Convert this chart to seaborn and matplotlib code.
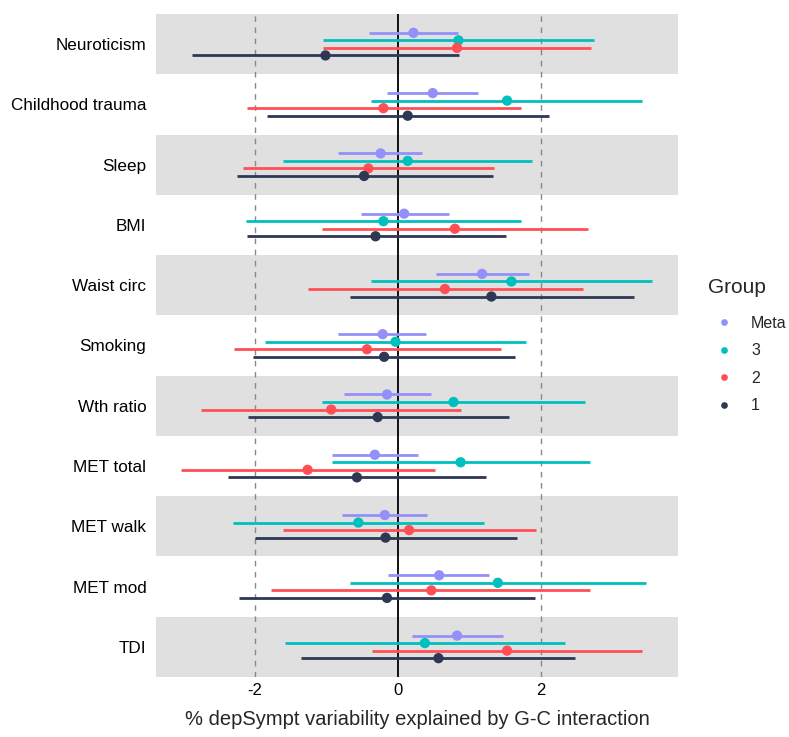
import numpy as np
import pandas as pd
import matplotlib
matplotlib.use("Agg")
import matplotlib.pyplot as plt
import seaborn as sns

sns.set_theme(style="white")
plt.rcParams["font.family"] = ["Liberation Sans", "DejaVu Sans"]

categories = ["Neuroticism", "Childhood trauma", "Sleep", "BMI", "Waist circ",
              "Smoking", "Wth ratio", "MET total", "MET walk", "MET mod", "TDI"]
groups = ["Meta", "3", "2", "1"]

est_meta = [0.22, 0.49, -0.24, 0.09, 1.18, -0.21, -0.15, -0.32, -0.18, 0.58, 0.83]
lo_meta = [-0.40, -0.15, -0.83, -0.52, 0.53, -0.83, -0.75, -0.92, -0.78, -0.14, 0.20]
hi_meta = [0.85, 1.13, 0.34, 0.72, 1.83, 0.40, 0.47, 0.28, 0.41, 1.28, 1.47]

est_3 = [0.85, 1.53, 0.14, -0.20, 1.59, -0.03, 0.78, 0.88, -0.55, 1.40, 0.38]
lo_3 = [-1.04, -0.38, -1.60, -2.12, -0.38, -1.85, -1.06, -0.92, -2.30, -0.67, -1.57]
hi_3 = [2.74, 3.42, 1.88, 1.72, 3.55, 1.79, 2.62, 2.69, 1.21, 3.47, 2.34]

est_2 = [0.83, -0.20, -0.41, 0.80, 0.66, -0.43, -0.93, -1.26, 0.16, 0.47, 1.53]
lo_2 = [-1.04, -2.11, -2.17, -1.06, -1.25, -2.29, -2.75, -3.03, -1.61, -1.77, -0.36]
hi_2 = [2.70, 1.72, 1.34, 2.66, 2.59, 1.45, 0.89, 0.52, 1.94, 2.69, 3.41]

est_1 = [-1.01, 0.14, -0.47, -0.31, 1.31, -0.19, -0.28, -0.57, -0.17, -0.15, 0.57]
lo_1 = [-2.88, -1.83, -2.25, -2.11, -0.67, -2.03, -2.10, -2.37, -2.00, -2.22, -1.35]
hi_1 = [0.86, 2.11, 1.33, 1.51, 3.30, 1.64, 1.56, 1.24, 1.67, 1.92, 2.48]

colors = {"Meta": "#9490FA", "3": "#00C0BE", "2": "#FF4F55", "1": "#2E3854"}

series = {"Meta": (est_meta, lo_meta, hi_meta), "3": (est_3, lo_3, hi_3),
          "2": (est_2, lo_2, hi_2), "1": (est_1, lo_1, hi_1)}
offsets = {"Meta": -0.1875, "3": -0.0625, "2": 0.0625, "1": 0.1875}

rows = []
for g in groups:
    e, l, h = series[g]
    for i, c in enumerate(categories):
        rows.append(dict(category=c, Group=g, est=e[i], lo=l[i], hi=h[i],
                         ypos=i + offsets[g]))
df = pd.DataFrame(rows)

fig = plt.figure(figsize=(7.89, 7.37), dpi=100)
ax = fig.add_axes([156 / 789, 1 - 677 / 737, (678 - 156) / 789, (677 - 14) / 737])

# alternating background bands
for i in range(len(categories)):
    if i % 2 == 0:
        ax.axhspan(i - 0.5, i + 0.5, color="#E0E0E0", lw=0, zorder=0)

ax.axvline(-2, color="#888888", ls=(0, (4, 4)), lw=1, zorder=1)
ax.axvline(2, color="#888888", ls=(0, (4, 4)), lw=1, zorder=1)
ax.axvline(0, color="black", lw=1.3, zorder=1)

for g in groups:
    sub = df[df.Group == g]
    ax.hlines(sub.ypos, sub.lo, sub.hi, color=colors[g], lw=2, zorder=2)

sns.scatterplot(data=df, x="est", y="ypos", hue="Group", hue_order=groups,
                palette=colors, s=55, edgecolor="none", ax=ax, zorder=3)

ax.set_xlim(-3.38, 3.92)
ax.set_ylim(len(categories) - 0.5, -0.5)
ax.set_yticks(range(len(categories)))
ax.set_yticklabels(categories)
ax.set_xticks([-2, 0, 2])
ax.set_xticklabels(["-2", "0", "2"])
ax.tick_params(axis="x", length=0, labelsize=12, colors="black", pad=4)
ax.tick_params(axis="y", length=0, labelsize=12.3, colors="black", pad=7)
ax.set_ylabel("")
ax.set_xlabel("% depSympt variability explained by G-C interaction", fontsize=14.5, labelpad=9)
for s in ax.spines.values():
    s.set_visible(False)

handles, labels = ax.get_legend_handles_labels()
leg = ax.legend(handles, labels, title="Group", loc="center left",
                bbox_to_anchor=(1.03, 0.50), frameon=False, fontsize=11.5,
                title_fontsize=15, handletextpad=0.7, labelspacing=0.78,
                markerscale=0.65)
leg._legend_box.align = "left"
leg._legend_box.sep = 14

fig.savefig("out.png", dpi=100)
